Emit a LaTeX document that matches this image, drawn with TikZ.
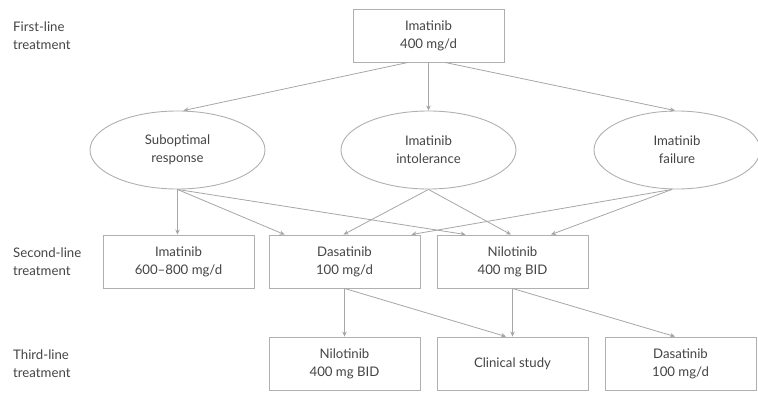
\documentclass[tikz,border=0pt]{standalone}
\usepackage{fontspec}
\setmainfont{Lato}
\usetikzlibrary{arrows.meta,calc,shapes.geometric}
\definecolor{linegray}{HTML}{A6A6A6}
\definecolor{boxgray}{HTML}{B0B0B0}
\definecolor{txtgray}{HTML}{444444}
\tikzset{
  box/.style={draw=boxgray,line width=0.9pt,rectangle,minimum width=151pt,minimum height=53pt,inner sep=0pt,align=center,text=txtgray,font=\fontsize{13.2}{18}\selectfont},
  oval/.style={draw=boxgray,line width=0.9pt,ellipse,minimum width=175pt,minimum height=78pt,inner sep=0pt,align=center,text=txtgray,font=\fontsize{13.2}{18}\selectfont},
  rowlabel/.style={anchor=west,align=left,inner sep=0pt,text=txtgray,font=\fontsize{13.2}{18}\selectfont},
  conn/.style={draw=linegray,line width=0.8pt,-{Stealth[length=5pt,width=4.5pt]}}
}
\begin{document}
\begin{tikzpicture}[x=1pt,y=-1pt]
\useasboundingbox (0,0) rectangle (758,393);
% row labels
\node[rowlabel] (l1) at (13,35.5) {First-line\\treatment};
\node[rowlabel] (l2) at (13,261.5) {Second-line\\treatment};
\node[rowlabel] (l3) at (13,363.5) {Third-line\\treatment};
% first line
\node[box] (top) at (428.5,35.5) {Imatinib\\400 mg/d};
% outcomes
\node[oval] (sub) at (177.5,150) {Suboptimal\\response};
\node[oval] (int) at (428.5,150) {Imatinib\\intolerance};
\node[oval,minimum width=166pt] (fail) at (677,150) {Imatinib\\failure};
% second line
\node[box] (im2) at (178.5,261.5) {Imatinib\\600–800 mg/d};
\node[box] (da2) at (344.5,261.5) {Dasatinib\\100 mg/d};
\node[box] (ni2) at (512.5,261.5) {Nilotinib\\400 mg BID};
% third line
\node[box] (ni3) at (344.5,363.5) {Nilotinib\\400 mg BID};
\node[box] (cs3) at (512.5,363.5) {Clinical study};
\node[box] (da3) at (680.5,363.5) {Dasatinib\\100 mg/d};
% connectors top -> outcomes
\draw[conn] ($(top.south)+(-20.5,0)$) -- ($(sub.north)+(6,0)$);
\draw[conn] (top.south) -- (int.north);
\draw[conn] ($(top.south)+(16.5,0)$) -- ($(fail.north)+(-2,0)$);
% outcomes -> second line
\draw[conn] (sub.south) -- (sub.south |- im2.north);
\draw[conn] (sub.south) -- ($(da2.north west)+(16,0)$);
\draw[conn] (sub.south) -- ($(ni2.north west)+(29,0)$);
\draw[conn] (int.south) -- ($(da2.north)+(-1,0)$);
\draw[conn] (int.south) -- ($(ni2.north)+(-1.5,0)$);
\draw[conn] ($(fail.south)+(-5,0)$) -- ($(da2.north east)+(-9,0)$);
\draw[conn] ($(fail.south)+(-5,0)$) -- ($(ni2.north)+(38.5,0)$);
% second -> third line
\draw[conn] (da2.south) -- (ni3.north);
\draw[conn] (da2.south) -- ($(cs3.north)+(-6.5,0)$);
\draw[conn] (ni2.south) -- (cs3.north);
\draw[conn] (ni2.south) -- ($(da3.north)+(-5.5,0)$);
\end{tikzpicture}
\end{document}
